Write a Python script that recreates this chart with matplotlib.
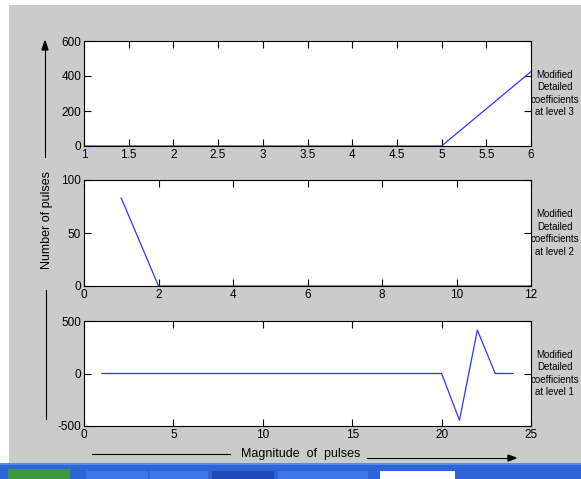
import numpy as np
import matplotlib.pyplot as plt
from matplotlib.patches import Rectangle

plt.rcParams['font.family'] = ['Liberation Sans Narrow', 'Liberation Sans', 'DejaVu Sans']
plt.rcParams['axes.unicode_minus'] = False

# level 3 coefficients
x3 = [1, 2, 3, 4, 5, 6]
y3 = [0, 0, 0, 0, 0, 425]
# level 2 coefficients
x2 = [1, 2, 3, 4, 5, 6, 7, 8, 9, 10, 11, 12]
y2 = [83, 0, 0, 0, 0, 0, 0, 0, 0, 0, 0, 0]
# level 1 coefficients
x1 = list(range(1, 25))
y1 = [0] * 19 + [0, -445, 413, 0, 0]

panels = [
    (x3, y3, (1, 6), (0, 600), np.arange(1, 6.01, 0.5), [0, 200, 400, 600], "at level 3"),
    (x2, y2, (0, 12), (0, 100), [0, 2, 4, 6, 8, 10, 12], [0, 50, 100], "at level 2"),
    (x1, y1, (0, 25), (-500, 500), [0, 5, 10, 15, 20, 25], [-500, 0, 500], "at level 1"),
]

W, H = 581, 479
fig = plt.figure(figsize=(W / 100, H / 100), dpi=100)
fig.patch.set_facecolor('white')

def fx(px):
    return px / W

def fy(py):
    return 1 - py / H

# grey window area and taskbar
fig.patches.append(Rectangle((fx(9), fy(463)), 1, fy(5) - fy(463), transform=fig.transFigure,
                             facecolor='#cbcbcb', edgecolor='none', zorder=-10))
fig.patches.append(Rectangle((0, 0), 1, fy(463), transform=fig.transFigure,
                             facecolor='#2f63d8', edgecolor='none', zorder=-10))
fig.patches.append(Rectangle((0, fy(465)), 1, fy(463) - fy(465), transform=fig.transFigure,
                             facecolor='#4d8cf0', edgecolor='none', zorder=-9))
fig.patches.append(Rectangle((fx(8), 0), fx(62), fy(469), transform=fig.transFigure,
                             facecolor='#3c9a3c', edgecolor='none', zorder=-8))
for left, width, col in [(86, 62, '#3d77e6'), (150, 58, '#3d77e6'), (212, 62, '#1e47b8'),
                         (278, 90, '#3d77e6'), (380, 75, 'white')]:
    fig.patches.append(Rectangle((fx(left), 0), fx(width), fy(471), transform=fig.transFigure,
                                 facecolor=col, edgecolor='none', zorder=-8))

tops = [41, 180, 321]
bottoms = [146, 286, 426]
for (xs, ys, xl, yl, xt, yt, lvl), top, bot in zip(panels, tops, bottoms):
    ax = fig.add_axes([fx(84), fy(bot), fx(531) - fx(84), fy(top) - fy(bot)])
    ax.plot(xs, ys, color='#3333ff', lw=0.9)
    ax.set_xlim(*xl)
    ax.set_ylim(*yl)
    ax.set_xticks(xt)
    ax.set_yticks(yt)
    ax.set_xticklabels([f"{v:g}" for v in xt])
    ax.tick_params(direction='in', length=5, width=0.8, top=True, right=True,
                   labelsize=8.5, pad=2)
    for s in ax.spines.values():
        s.set_linewidth(0.8)
    ax.text(1.053, 0.5, "Modified\nDetailed\ncoefficients\n" + lvl, transform=ax.transAxes,
            ha='center', va='center', fontsize=7, linespacing=1.3)

# y axis label with arrow lines
fig.text(fx(47), fy(220), "Number of pulses", rotation=90, ha='center', va='center', fontsize=9)
fig.add_artist(plt.Line2D([fx(45), fx(45)], [fy(157), fy(50)], transform=fig.transFigure,
                          color='black', lw=0.8))
fig.add_artist(plt.Line2D([fx(46), fx(46)], [fy(419), fy(290)], transform=fig.transFigure,
                          color='black', lw=0.8))
fig.patches.append(plt.Polygon([[fx(42), fy(50)], [fx(48), fy(50)], [fx(45), fy(41)]],
                               closed=True, transform=fig.transFigure, color='black'))

# x axis label with arrow lines
fig.text(fx(301), fy(454), "Magnitude  of  pulses", ha='center', va='center', fontsize=9)
fig.add_artist(plt.Line2D([fx(92), fx(230)], [fy(454), fy(454)], transform=fig.transFigure,
                          color='black', lw=0.8))
fig.add_artist(plt.Line2D([fx(367), fx(508)], [fy(458), fy(458)], transform=fig.transFigure,
                          color='black', lw=0.8))
fig.patches.append(plt.Polygon([[fx(508), fy(455)], [fx(508), fy(461)], [fx(516), fy(458)]],
                               closed=True, transform=fig.transFigure, color='black'))

fig.savefig("out.png", dpi=100)
